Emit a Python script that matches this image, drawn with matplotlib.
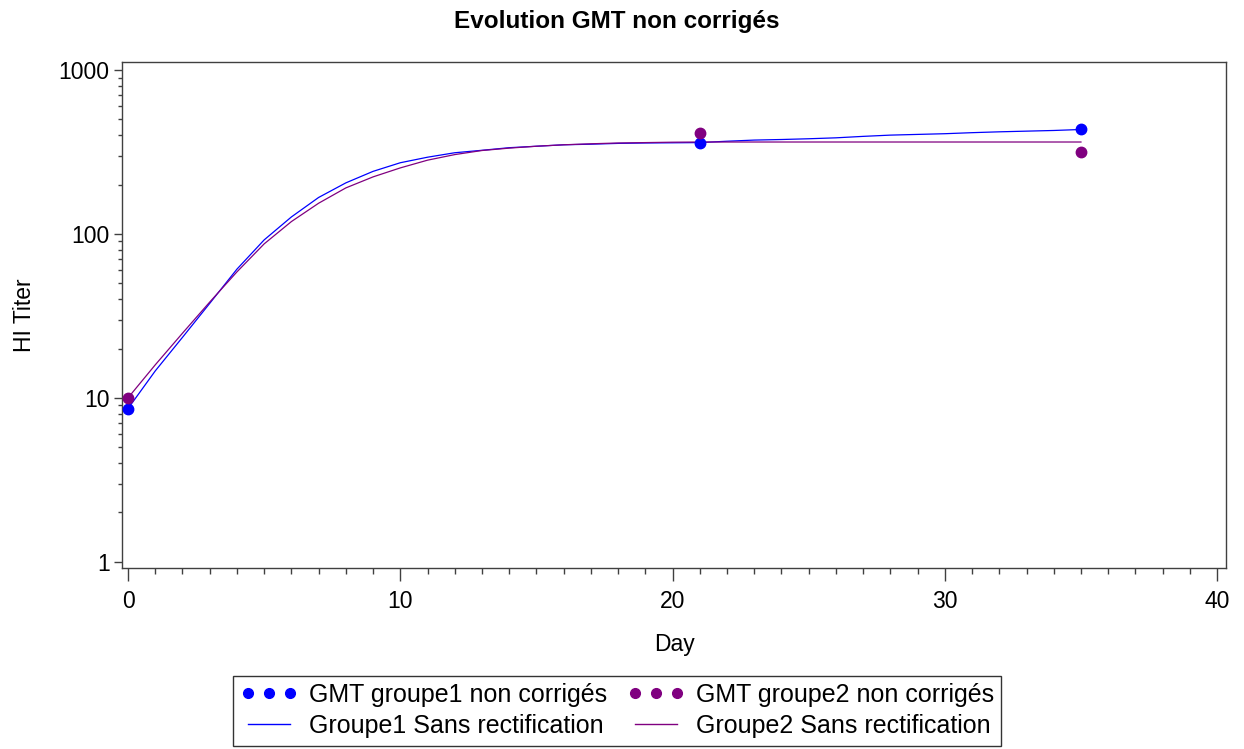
import matplotlib
matplotlib.use("Agg")
import matplotlib.pyplot as plt
from matplotlib.ticker import LogLocator, FixedLocator, NullFormatter, MultipleLocator
from matplotlib.lines import Line2D

plt.rcParams['font.family'] = ['Liberation Sans', 'DejaVu Sans']

# Observed GMT values
obs_days = [0, 21, 35]
gmt_g1 = [8.6, 360, 435]
gmt_g2 = [10.0, 415, 317]

# Fitted curves (daily)
curve_days = list(range(0, 36))
curve_g1 = [8.6, 14.6, 23.4, 37.7, 61, 92, 127, 167, 205, 241, 272, 294,
            313, 324, 336, 343, 350, 353, 357, 359, 360, 361,
            368, 374, 377, 381, 386, 394, 401, 405, 409, 415, 420, 424, 428, 434]
curve_g2 = [10.0, 15.9, 24.8, 38.4, 58.7, 87, 119, 154, 191, 223, 253, 282,
            305, 323, 334, 343, 350, 355, 359, 361, 363, 364,
            364, 364, 364, 364, 364, 364, 364, 364, 364, 364, 364, 364, 364, 364]

title = "Evolution GMT non corrigés"
xlabel = "Day"
ylabel = "HI Titer"
labels = ["GMT groupe1 non corrigés", "Groupe1 Sans rectification",
          "GMT groupe2 non corrigés", "Groupe2 Sans rectification"]

blue = "#0000FF"
purple = "#800080"

fig = plt.figure(figsize=(12.44, 7.49), dpi=100)
ax = fig.add_axes([0.0981, 0.2417, 0.8875, 0.6759])

ax.plot(curve_days, curve_g1, color=blue, lw=0.9, zorder=3)
ax.plot(curve_days, curve_g2, color=purple, lw=0.9, zorder=3)
ax.plot(obs_days, gmt_g1, 'o', color=blue, ms=7.5, ls='none', zorder=4)
ax.plot(obs_days, gmt_g2, 'o', color=purple, ms=7.5, ls='none', zorder=4)

ax.set_yscale('log')
ax.set_ylim(10 ** -0.038, 10 ** 3.051)
ax.set_xlim(-0.22, 40.33)

ax.yaxis.set_major_locator(FixedLocator([1, 10, 100, 1000]))
ax.set_yticklabels(["1", "10", "100", "1000"])
ax.yaxis.set_minor_locator(LogLocator(base=10, subs=range(2, 10)))
ax.yaxis.set_minor_formatter(NullFormatter())
ax.xaxis.set_major_locator(MultipleLocator(10))
ax.xaxis.set_minor_locator(MultipleLocator(1))

for s in ax.spines.values():
    s.set_color("#404040")
    s.set_linewidth(1.0)

ax.tick_params(axis='both', which='major', labelsize=16.5, colors="#404040",
               labelcolor='black', direction='out')
ax.tick_params(axis='x', which='major', length=9, width=1.0, pad=7)
ax.tick_params(axis='x', which='minor', length=4, width=1.0, colors="#404040")
ax.tick_params(axis='y', which='major', length=6, width=1.0, pad=3)
ax.tick_params(axis='y', which='minor', length=3, width=1.0, colors="#404040")

ax.set_xlabel(xlabel, fontsize=16.5, labelpad=14)
ax.set_ylabel(ylabel, fontsize=16.5, labelpad=16)
fig.text(0.496, 0.971, title, ha='center', va='center', fontsize=17.5, fontweight='bold')

handles = [
    Line2D([], [], marker='o', ls='none', color=blue, ms=7),
    Line2D([], [], color=blue, lw=1.0),
    Line2D([], [], marker='o', ls='none', color=purple, ms=7),
    Line2D([], [], color=purple, lw=1.0),
]
leg = fig.legend(handles, labels, ncol=2, loc='center', bbox_to_anchor=(0.496, 0.0514),
                 fontsize=18, numpoints=3, frameon=True, fancybox=False,
                 edgecolor='black', handlelength=2.3, handletextpad=0.45,
                 columnspacing=0.8, labelspacing=0.28, borderpad=0.3,
                 borderaxespad=0)
leg.get_frame().set_linewidth(1.0)

fig.savefig("out.png", dpi=100)
